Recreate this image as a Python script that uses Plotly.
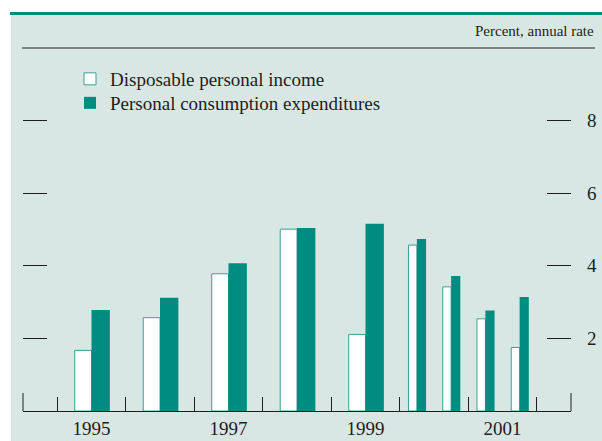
import plotly.graph_objects as go

# ---- data ----
periods = ["1995", "1996", "1997", "1998", "1999", "2000 H1", "2000 H2", "2001 H1", "2001 H2"]
disposable_income = [1.67, 2.57, 3.78, 5.01, 2.11, 4.57, 3.42, 2.54, 1.75]
consumption_exp = [2.78, 3.12, 4.07, 5.04, 5.16, 4.74, 3.72, 2.77, 3.14]
year_labels = ["1995", "1997", "1999", "2001"]
y_ticks = [2, 4, 6, 8]

# ---- styles ----
TEAL = "#008c80"
BG = "#d8e7e3"
OUTLINE = "#3e9f95"
FONT = "Liberation Serif"
INK = "#1e1e1e"
W_WHITE, W_TEAL = 0.245, 0.268  # fraction of the period length

# map periods to numeric positions (year units) and period span
xs, spans = [], []
for p in periods:
    yr = int(p[:4])
    if p.endswith("H1"):
        xs.append(yr + 0.25); spans.append(0.5)
    elif p.endswith("H2"):
        xs.append(yr + 0.75); spans.append(0.5)
    else:
        xs.append(yr + 0.5); spans.append(1.0)

w_white = [W_WHITE * s for s in spans]
w_teal = [W_TEAL * s for s in spans]

fig = go.Figure()
fig.add_trace(go.Bar(
    x=xs, y=disposable_income, name="Disposable personal income",
    width=w_white, offset=[-w for w in w_white],
    marker=dict(color="white", line=dict(color=OUTLINE, width=1)),
    legend="legend",
))
fig.add_trace(go.Bar(
    x=xs, y=consumption_exp, name="Personal consumption expenditures",
    width=w_teal, offset=[0] * len(w_teal),
    marker=dict(color=TEAL, line=dict(width=0)),
    legend="legend2",
))

first_year = int(periods[0][:4])
last_year = int(periods[-1][:4])
bounds = list(range(first_year, last_year + 2))

L, R, T, B = 23, 31, 48, 30
W, H = 602, 441
pw, ph = W - L - R, H - T - B

def px_x(px):
    return (px - L) / pw

def px_y(py):
    return (H - B - py) / ph

shapes = [
    # page background
    dict(type="rect", xref="paper", yref="paper", layer="below",
         x0=px_x(11), x1=px_x(606), y0=px_y(445), y1=px_y(14.5),
         fillcolor=BG, line=dict(width=0)),
    # top teal rule
    dict(type="rect", xref="paper", yref="paper", layer="below",
         x0=px_x(10), x1=px_x(606), y0=px_y(15), y1=px_y(12),
         fillcolor=TEAL, line=dict(width=0)),
    # rule under the unit label
    dict(type="line", xref="paper", yref="paper",
         x0=px_x(22), x1=px_x(595), y0=1, y1=1,
         line=dict(color=INK, width=1)),
    # axis end ticks
    dict(type="line", xref="paper", yref="paper", x0=0, x1=0, y0=0, y1=18 / ph,
         line=dict(color=INK, width=1)),
    dict(type="line", xref="paper", yref="paper", x0=1, x1=1, y0=0, y1=18 / ph,
         line=dict(color=INK, width=1)),
]

legend_common = dict(
    xanchor="left", yanchor="top",
    bgcolor="rgba(0,0,0,0)", borderwidth=0,
    font=dict(family=FONT, size=19, color=INK),
)

fig.update_layout(
    width=W, height=H,
    margin=dict(l=L, r=R, t=T, b=B, autoexpand=False),
    paper_bgcolor="white",
    plot_bgcolor="rgba(0,0,0,0)",
    barmode="overlay",
    font=dict(family=FONT, color=INK, size=19),
    showlegend=True,
    legend=dict(x=px_x(70), y=px_y(60), **legend_common),
    legend2=dict(x=px_x(70), y=px_y(84), **legend_common),
    shapes=shapes,
    annotations=[dict(
        text="Percent, annual rate", xref="paper", yref="paper",
        x=px_x(596), y=px_y(31), xanchor="right", yanchor="middle",
        showarrow=False, font=dict(family=FONT, size=15, color=INK),
    )],
    xaxis=dict(
        range=[first_year - 0.5, last_year + 1.5],
        tickvals=[int(y) + 0.5 for y in year_labels], ticktext=year_labels,
        ticks="", ticklabelstandoff=0,
        showgrid=False, zeroline=False,
        showline=True, linecolor=INK, linewidth=1,
        minor=dict(tickvals=bounds, ticks="inside", ticklen=14,
                   tickcolor=INK, tickwidth=1, showgrid=False),
        tickfont=dict(family=FONT, size=19, color=INK),
        fixedrange=True,
    ),
    yaxis=dict(
        range=[0, 10], tickvals=y_ticks, ticktext=[str(v) for v in y_ticks],
        side="right", mirror="ticks", ticks="inside", ticklen=24,
        tickcolor=INK, tickwidth=1, ticklabelstandoff=15,
        showline=False, showgrid=False, zeroline=False,
        tickfont=dict(family=FONT, size=19, color=INK),
        fixedrange=True,
    ),
)

fig.write_html(
    "out.html",
    config={"displayModeBar": False},
    post_script="document.body.style.margin='0';document.body.style.overflow='hidden';",
)
